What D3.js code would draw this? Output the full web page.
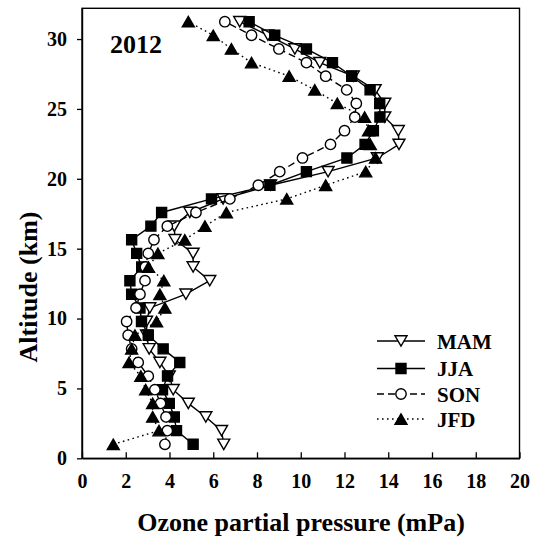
<!DOCTYPE html>
<html><head><meta charset="utf-8">
<script src="https://cdn.jsdelivr.net/npm/d3@7"></script>
<style>html,body{margin:0;padding:0;background:#fff}</style>
</head><body><svg id="chart" width="535" height="540"></svg>
<script>
// Sounding levels (km), bottom to top
const altitude = [1.00, 1.98, 2.96, 3.93, 4.91, 5.88, 6.86, 7.83, 8.81, 9.79, 10.76, 11.74, 12.71, 13.69, 14.66, 15.64,
                  16.61, 17.59, 18.56, 19.54, 20.51, 21.49, 22.46, 23.44, 24.41, 25.39, 26.36, 27.34, 28.31, 29.29, 30.27, 31.24];
// Seasonal mean ozone partial pressure (mPa) at each level
const mam = [6.48, 6.38, 5.66, 4.86, 4.17, 3.99, 3.56, 3.07, 2.95, 2.95, 3.10, 4.75, 5.84, 5.08, 5.08, 4.25,
             4.22, 4.93, 6.45, 8.62, 11.25, 13.50, 14.49, 14.46, 13.84, 13.84, 13.40, 12.40, 10.87, 9.73, 8.50, 7.21];
const jja = [5.08, 4.32, 4.22, 3.99, 3.68, 3.91, 4.47, 3.71, 3.03, 2.72, 2.65, 2.27, 2.19, 2.73, 2.50, 2.27,
             3.15, 3.64, 5.92, 8.59, 10.26, 12.11, 12.94, 13.32, 13.62, 13.61, 13.17, 12.33, 11.45, 10.26, 8.81, 7.64];
const son = [3.79, 3.90, 3.84, 3.59, 3.33, 3.03, 2.57, 2.27, 2.11, 2.04, 2.47, 2.65, 2.88, 2.90, 3.03, 3.29,
             3.90, 5.21, 6.76, 8.06, 9.04, 10.08, 11.36, 12.00, 12.47, 12.54, 12.10, 11.14, 10.26, 9.00, 7.75, 6.53];
const jfd = [1.43, 3.52, 3.23, 3.23, 2.91, 2.69, 2.15, 2.27, 2.42, 3.41, 3.79, 3.56, 3.74, 3.04, 3.47, 4.70,
             5.62, 6.60, 9.36, 11.14, 12.97, 13.42, 13.18, 13.10, 12.92, 11.67, 10.64, 9.47, 7.75, 6.83, 6.00, 4.86];
const seasonNames = ["MAM", "JJA", "SON", "JFD"];
const xTickValues = [0, 2, 4, 6, 8, 10, 12, 14, 16, 18, 20];
const yTickValues = [0, 5, 10, 15, 20, 25, 30];

const FONT = "'Liberation Serif','Times New Roman',serif";
const svg = d3.select("#chart");

const x = d3.scaleLinear().domain([0, 20]).range([82, 519.5]);
const y = d3.scaleLinear().domain([0, 32.2]).range([458.3, 8.3]);

// marker shapes
function markerPath(kind) {
  const h = 5.6, t = 5.2;
  if (kind === "down") return `M${-6},${-t}L6,${-t}L0,${t}Z`;
  if (kind === "up") return `M${-6},${t}L6,${t}L0,${-t}Z`;
  if (kind === "square") return `M${-h+0.6},${-h+0.6}h${2*h-1.2}v${2*h-1.2}h${-(2*h-1.2)}Z`;
  return d3.arc()({innerRadius: 0, outerRadius: 5.2, startAngle: 0, endAngle: 2 * Math.PI});
}

const series = [
  {name: seasonNames[0], values: mam, marker: "down",   fill: "#fff", dash: null},
  {name: seasonNames[1], values: jja, marker: "square", fill: "#000", dash: null},
  {name: seasonNames[2], values: son, marker: "circle", fill: "#fff", dash: "7,4"},
  {name: seasonNames[3], values: jfd, marker: "up",     fill: "#000", dash: "1.6,3.4"}
];

// frame
svg.append("rect").attr("x", x(0)).attr("y", y(32.2))
  .attr("width", x(20) - x(0)).attr("height", y(0) - y(32.2))
  .attr("fill", "none").attr("stroke", "#000").attr("stroke-width", 1.4);

// axes
const xAxis = svg.append("g").attr("transform", `translate(0,${y(0)})`)
  .call(d3.axisBottom(x).tickValues(xTickValues).tickSizeInner(-6).tickSizeOuter(0).tickPadding(16));
const yAxis = svg.append("g").attr("transform", `translate(${x(0)},0)`)
  .call(d3.axisLeft(y).tickValues(yTickValues).tickSizeInner(5).tickSizeOuter(0).tickPadding(10));
[xAxis, yAxis].forEach(g => {
  g.select(".domain").attr("stroke", "#000").attr("stroke-width", 1.4);
  g.selectAll(".tick line").attr("stroke", "#000").attr("stroke-width", 1.3);
  g.selectAll(".tick text").attr("fill", "#000").style("font-family", FONT)
    .style("font-weight", "bold").style("font-size", "20px");
});

// profiles
const line = d3.line().x(d => x(d[0])).y(d => y(d[1]));
series.forEach(s => {
  const pts = s.values.map((v, i) => [v, altitude[i]]);
  const g = svg.append("g");
  g.append("path").attr("d", line(pts)).attr("fill", "none").attr("stroke", "#000")
    .attr("stroke-width", 1.4).attr("stroke-dasharray", s.dash);
  g.selectAll("path.m").data(pts).enter().append("path").attr("class", "m")
    .attr("d", markerPath(s.marker))
    .attr("transform", d => `translate(${x(d[0])},${y(d[1])})`)
    .attr("fill", s.fill).attr("stroke", "#000").attr("stroke-width", 1.4);
});

// legend
const legendY = [341, 368.5, 394, 419];
series.forEach((s, i) => {
  const g = svg.append("g").attr("transform", `translate(0,${legendY[i]})`);
  g.append("line").attr("x1", 377).attr("x2", 425).attr("y1", 0).attr("y2", 0)
    .attr("stroke", "#000").attr("stroke-width", 1.4).attr("stroke-dasharray", s.dash);
  g.append("path").attr("d", markerPath(s.marker)).attr("transform", "translate(401,0)")
    .attr("fill", s.fill).attr("stroke", "#000").attr("stroke-width", 1.4);
  g.append("text").attr("x", 437).attr("y", 7.5).text(s.name)
    .style("font-family", FONT).style("font-weight", "bold").style("font-size", "21px");
});

// year label
svg.append("text").attr("x", 110).attr("y", 52.5).text("2012")
  .style("font-family", FONT).style("font-weight", "bold").style("font-size", "26px");

// axis titles
svg.append("text").attr("x", 301).attr("y", 531).attr("text-anchor", "middle")
  .text("Ozone partial pressure (mPa)")
  .style("font-family", FONT).style("font-weight", "bold").style("font-size", "26px");
svg.append("text").attr("transform", "translate(37,287) rotate(-90)").attr("text-anchor", "middle")
  .text("Altitude (km)")
  .style("font-family", FONT).style("font-weight", "bold").style("font-size", "26px");
</script></body></html>
